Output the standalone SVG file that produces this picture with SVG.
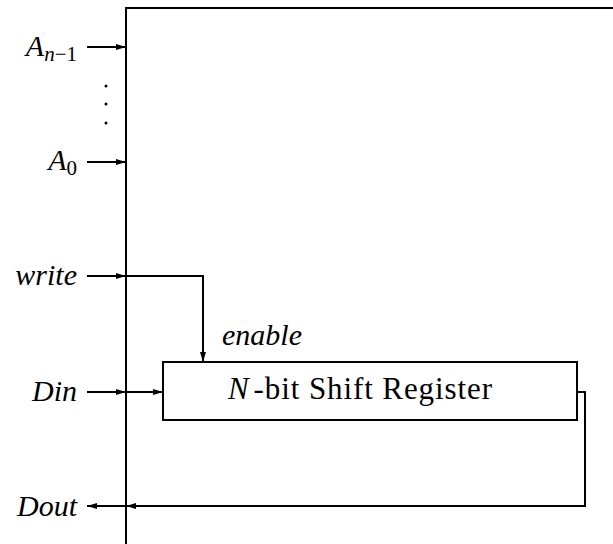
<svg xmlns="http://www.w3.org/2000/svg" width="613" height="544" viewBox="0 0 613 544">
<style>
.ln{fill:none;stroke:#000;stroke-width:2}
text{font-family:'Liberation Serif','Times New Roman',serif;fill:#000}
.lbl{font-style:italic;font-size:30px}
.reg{font-size:31px}
</style>
<defs>
<marker id="ah" markerWidth="11" markerHeight="8" refX="10" refY="4" orient="auto" markerUnits="userSpaceOnUse">
<path d="M0,1 L10,4 L0,7 Z" fill="#000"/>
</marker>
</defs>
<g id="chip">
<path class="ln" d="M126,544 V8 H613" stroke-width="2.4"/>
</g>
<g id="shiftreg">
<rect x="163" y="362" width="414" height="58" class="ln" stroke-width="2.4"/>
<text x="228" y="399" textLength="264" class="reg"><tspan font-style="italic">N</tspan><tspan dx="4">-bit Shift Register</tspan></text>
</g>
<g id="labels">
<text x="77" y="56" text-anchor="end" class="lbl">A<tspan font-size="21" font-style="italic" dy="5">n</tspan><tspan font-size="21" font-style="normal">−1</tspan></text>
<text x="77" y="170" text-anchor="end" class="lbl">A<tspan font-size="21" font-style="normal" dy="5">0</tspan></text>
<text x="77" y="285" text-anchor="end" class="lbl">write</text>
<text x="77" y="401" text-anchor="end" class="lbl">Din</text>
<text x="77" y="516" text-anchor="end" class="lbl">Dout</text>
<text x="222" y="345" class="lbl">enable</text>
<circle cx="106" cy="86" r="1.5"/>
<circle cx="106" cy="104" r="1.5"/>
<circle cx="106" cy="123" r="1.5"/>
</g>
<g id="connectors">
<path class="ln" d="M87,47 H126" marker-end="url(#ah)"/>
<path class="ln" d="M87,162 H126" stroke-width="2.8" marker-end="url(#ah)"/>
<path class="ln" d="M87,276 H126" marker-end="url(#ah)"/>
<path class="ln" d="M126,276 H203 V362" marker-end="url(#ah)"/>
<path class="ln" d="M87,392 H126" marker-end="url(#ah)"/>
<path class="ln" d="M126,392 H163" marker-end="url(#ah)"/>
<path class="ln" d="M577,392 H585 V506 H126" marker-end="url(#ah)"/>
<path class="ln" d="M126,506 H87" marker-end="url(#ah)"/>
</g>
</svg>
